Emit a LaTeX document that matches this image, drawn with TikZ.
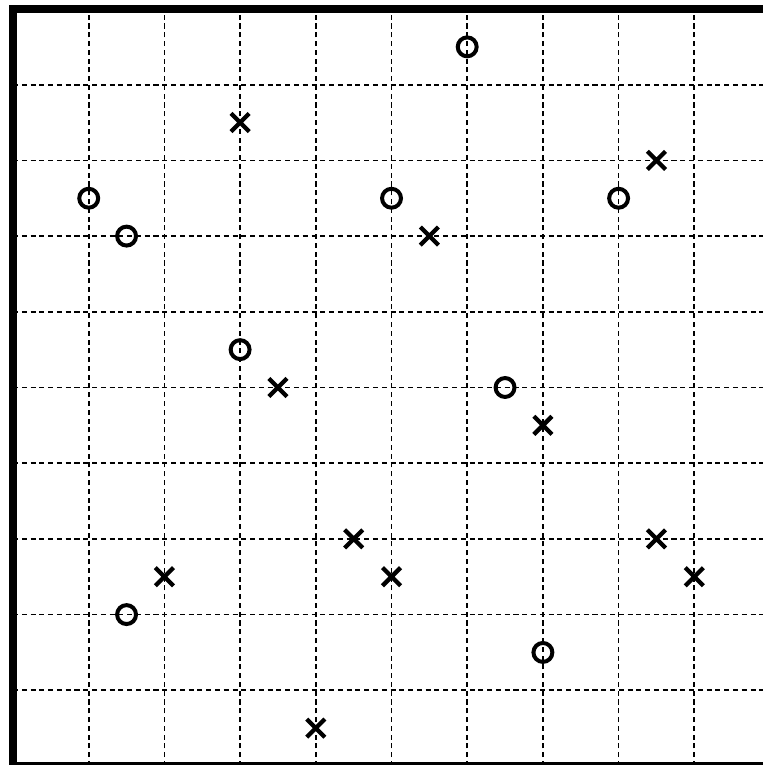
\documentclass[tikz,border=0pt]{standalone}
\usetikzlibrary{shapes.misc}
\begin{document}
\begin{tikzpicture}[
  gridline/.style={line width=0.65pt, dash pattern=on 1.9pt off 1.4pt},
  frameline/.style={line width=3pt},
  omark/.style={circle, draw, line width=1.5pt, minimum size=0.25cm, inner sep=0pt, outer sep=0pt},
  xmark/.style={cross out, draw, line width=1.6pt, minimum size=0.24cm, inner sep=0pt, outer sep=0pt}
]
\useasboundingbox (-0.172,0.013) rectangle (9.907,10.119);
\foreach \i in {1,...,9} {
  \draw[gridline] (\i,0) -- (\i,10);
  \draw[gridline] (0,\i) -- (10,\i);
}
\draw[frameline] (0,0) rectangle (10,10);
% circles
\node[omark] (o1) at (6,9.5) {};
\node[omark] (o2) at (1,7.5) {};
\node[omark] (o3) at (1.5,7) {};
\node[omark] (o4) at (5,7.5) {};
\node[omark] (o5) at (8,7.5) {};
\node[omark] (o6) at (3,5.5) {};
\node[omark] (o7) at (6.5,5) {};
\node[omark] (o8) at (1.5,2) {};
\node[omark] (o9) at (7,1.5) {};
% crosses
\node[xmark] (x1) at (3,8.5) {};
\node[xmark] (x2) at (8.5,8) {};
\node[xmark] (x3) at (5.5,7) {};
\node[xmark] (x4) at (3.5,5) {};
\node[xmark] (x5) at (7,4.5) {};
\node[xmark] (x6) at (4.5,3) {};
\node[xmark] (x7) at (2,2.5) {};
\node[xmark] (x8) at (5,2.5) {};
\node[xmark] (x9) at (8.5,3) {};
\node[xmark] (x10) at (9,2.5) {};
\node[xmark] (x11) at (4,0.5) {};
\end{tikzpicture}
\end{document}
